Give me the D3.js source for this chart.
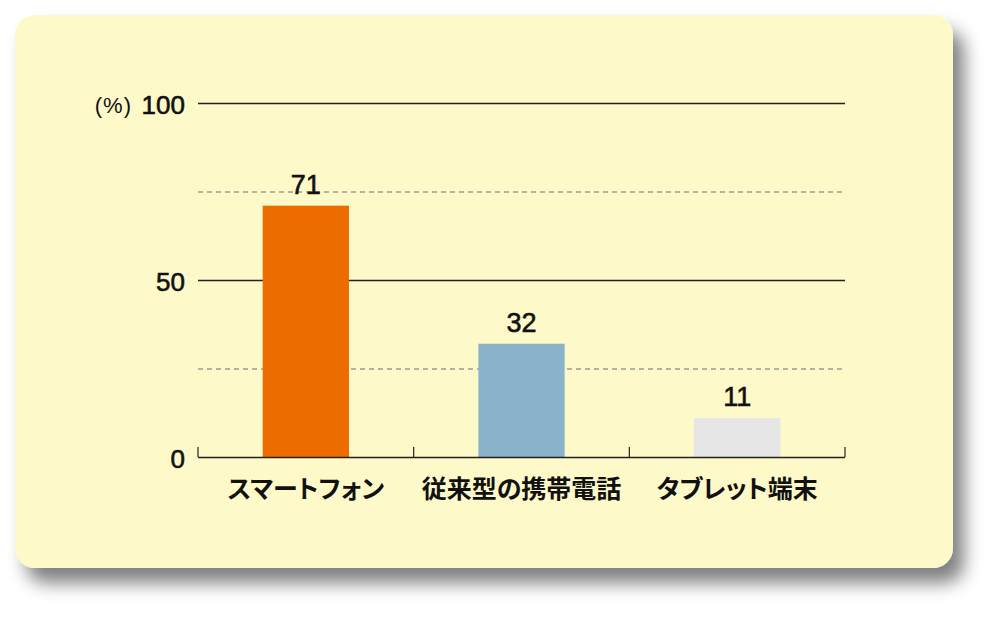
<!DOCTYPE html>
<html>
<head>
<meta charset="utf-8">
<script src="https://cdn.jsdelivr.net/npm/d3@7"></script>
<style>
  body { margin: 0; background: #fff; }
  .num { font-family: "Liberation Sans", Arial, sans-serif; }
  .jp { font-family: "Noto Sans CJK JP", sans-serif; font-feature-settings: "palt"; }
</style>
</head>
<body>
<div id="chart"></div>
<script>
"use strict";

var categories = ["スマートフォン", "従来型の携帯電話", "タブレット端末"];
var values = [71, 32, 11];
var colors = ["#ec6c00", "#8ab2cb", "#e6e6e6"];
var solidTicks = [0, 50, 100];
var dashedTicks = [25, 75];

var width = 1000, height = 624;
var plotLeft = 198, plotRight = 845, plotTop = 103, plotBottom = 457;

var svg = d3.select("#chart")
    .append("svg")
    .attr("width", width)
    .attr("height", height);

var defs = svg.append("defs");
var filter = defs.append("filter")
    .attr("id", "shadow")
    .attr("x", "-10%").attr("y", "-10%")
    .attr("width", "130%").attr("height", "130%");
filter.append("feGaussianBlur").attr("in", "SourceAlpha").attr("stdDeviation", 9);
filter.append("feOffset").attr("dx", 11).attr("dy", 15).attr("result", "off");
filter.append("feComponentTransfer").append("feFuncA").attr("type", "linear").attr("slope", 0.5);
var merge = filter.append("feMerge");
merge.append("feMergeNode");
merge.append("feMergeNode").attr("in", "SourceGraphic");

// panel
svg.append("rect")
    .attr("x", 15)
    .attr("y", 15)
    .attr("width", 938)
    .attr("height", 553)
    .attr("rx", 20)
    .attr("fill", "#fef9c8")
    .attr("filter", "url(#shadow)");

var x = d3.scaleBand()
    .domain(categories)
    .range([plotLeft, plotRight])
    .padding(0);

var y = d3.scaleLinear()
    .domain([0, 100])
    .range([plotBottom, plotTop]);

// grid lines
svg.selectAll("line.solid")
    .data(solidTicks.filter(function (d) { return d > 0; }))
    .enter()
    .append("line")
    .attr("class", "solid")
    .attr("x1", plotLeft)
    .attr("x2", plotRight)
    .attr("y1", function (d) { return y(d) + 0.5; })
    .attr("y2", function (d) { return y(d) + 0.5; })
    .attr("stroke", "#222")
    .attr("stroke-width", 1.3);

svg.selectAll("line.dashed")
    .data(dashedTicks)
    .enter()
    .append("line")
    .attr("class", "dashed")
    .attr("x1", plotLeft)
    .attr("x2", plotRight)
    .attr("y1", function (d) { return y(d) + 0.5; })
    .attr("y2", function (d) { return y(d) + 0.5; })
    .attr("stroke", "#9a9a9a")
    .attr("stroke-width", 1.4)
    .attr("stroke-dasharray", "5,4");

// y labels
svg.selectAll("text.ytick")
    .data(solidTicks)
    .enter()
    .append("text")
    .attr("class", "ytick num")
    .attr("x", 185)
    .attr("y", function (d) { return y(d) + 2; })
    .attr("dy", "0.36em")
    .attr("text-anchor", "end")
    .attr("font-size", "26px")
    .attr("fill", "#111")
    .attr("stroke", "#111")
    .attr("stroke-width", 0.6)
    .text(function (d) { return d; });

svg.append("text")
    .attr("class", "num")
    .attr("x", 132)
    .attr("y", y(100) + 2)
    .attr("dy", "0.36em")
    .attr("text-anchor", "end")
    .attr("font-size", "22px")
    .attr("letter-spacing", "1px")
    .attr("fill", "#111")
    .text("(%)");

// bars
var barW = x.bandwidth() * 0.4;
svg.selectAll("rect.bar")
    .data(values)
    .enter()
    .append("rect")
    .attr("class", "bar")
    .attr("x", function (d, i) { return x(categories[i]) + (x.bandwidth() - barW) / 2; })
    .attr("y", function (d) { return y(d); })
    .attr("width", barW)
    .attr("height", function (d) { return plotBottom - y(d); })
    .attr("fill", function (d, i) { return colors[i]; });

// value labels
svg.selectAll("text.val")
    .data(values)
    .enter()
    .append("text")
    .attr("class", "val num")
    .attr("x", function (d, i) { return x(categories[i]) + x.bandwidth() / 2; })
    .attr("y", function (d) { return y(d) - 12; })
    .attr("text-anchor", "middle")
    .attr("font-size", "27px")
    .attr("fill", "#111")
    .attr("stroke", "#111")
    .attr("stroke-width", 0.6)
    .text(function (d) { return d; });

// x axis with upward ticks at band edges
var axisG = svg.append("g");
axisG.append("line")
    .attr("x1", plotLeft).attr("x2", plotRight)
    .attr("y1", plotBottom + 0.5).attr("y2", plotBottom + 0.5)
    .attr("stroke", "#222")
    .attr("stroke-width", 1.5);

var edges = categories.map(function (c) { return x(c); }).concat([plotRight]);
axisG.selectAll("line.tick")
    .data(edges)
    .enter()
    .append("line")
    .attr("class", "tick")
    .attr("x1", function (d) { return d; })
    .attr("x2", function (d) { return d; })
    .attr("y1", plotBottom)
    .attr("y2", plotBottom - 10)
    .attr("stroke", "#222")
    .attr("stroke-width", 1.2);

svg.selectAll("text.cat")
    .data(categories)
    .enter()
    .append("text")
    .attr("class", "cat jp")
    .attr("x", function (d) { return x(d) + x.bandwidth() / 2; })
    .attr("y", 498)
    .attr("text-anchor", "middle")
    .attr("font-size", "25px")
    .attr("font-weight", "bold")
    .attr("fill", "#111")
    .text(function (d) { return d; });
</script>
</body>
</html>
